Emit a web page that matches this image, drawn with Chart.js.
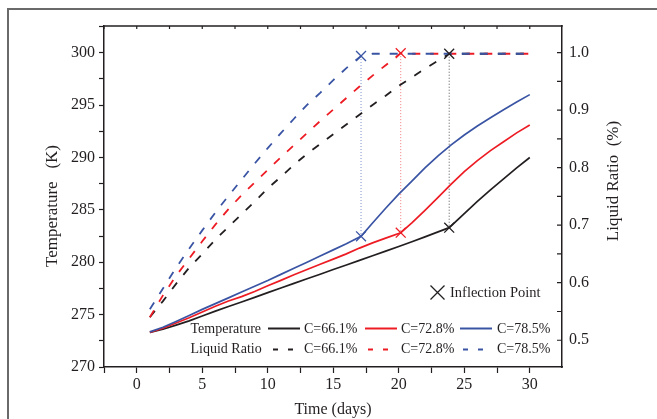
<!DOCTYPE html>
<html>
<head>
<meta charset="utf-8">
<script src="https://cdn.jsdelivr.net/npm/chart.js@4.4.1/dist/chart.umd.min.js"></script>
<style>
  html, body { margin: 0; padding: 0; background: #fff; overflow: hidden; }
  #wrap { position: relative; width: 657px; height: 419px; }
  #frame { position: absolute; left: 7px; top: 8px; width: 700px; height: 500px;
           border-left: 2px solid #6a6a6a; border-top: 2px solid #6a6a6a; }
  #chart { position: absolute; left: 0; top: 0; }
</style>
</head>
<body>
<div id="wrap">
  <div id="frame"></div>
  <canvas id="chart" width="657" height="419"></canvas>
</div>
<script>
// series labels
const concentrations = ['C=66.1%', 'C=72.8%', 'C=78.5%'];

// Temperature (K), left axis
const tempDays661 = [1,2,3,4,5,6,7,8,9,10,11,12,13,14,15,16,17,18,19,20,21,22,23,23.85,25,26,27,28,29,30];
const tempK661 = [273.3,273.6,274.0,274.4,274.87,275.33,275.78,276.2,276.65,277.1,277.54,277.98,278.42,278.86,279.3,279.74,280.18,280.62,281.06,281.5,281.95,282.42,282.9,283.3,284.65,285.8,286.9,287.95,289.0,290.0];

const tempDays728 = [1,2,3,4,5,6,7,8,9,10,11,12,13,14,15,16,17,18,19,20.15,21,22,23,24,25,26,27,28,29,30];
const tempK728 = [273.3,273.7,274.2,274.7,275.25,275.8,276.3,276.72,277.2,277.75,278.27,278.8,279.3,279.8,280.3,280.8,281.35,281.85,282.3,282.82,283.75,284.95,286.2,287.45,288.65,289.7,290.65,291.5,292.35,293.1];

const tempDays785 = [1,2,3,4,5,6,7,8,9,10,11,12,13,14,15,16,17.12,18,19,20,21,22,23,24,25,26,27,28,29,30];
const tempK785 = [273.35,273.8,274.35,274.92,275.5,276.05,276.6,277.15,277.7,278.25,278.84,279.42,280.0,280.6,281.18,281.77,282.47,283.75,285.15,286.5,287.75,289.0,290.15,291.2,292.15,293.0,293.8,294.55,295.3,296.0];

// Liquid ratio, right axis
const ratioDays661 = [1,2,3,4,5,6,7,8,9,10,11,12,13,14,15,16,17,18,19,20,21,22,23,23.85,25,26,27,28,29,30];
const ratio661 = [0.540,0.568,0.598,0.626,0.650,0.675,0.697,0.719,0.741,0.764,0.784,0.805,0.824,0.841,0.858,0.875,0.892,0.909,0.925,0.942,0.957,0.972,0.986,0.998,0.998,0.998,0.998,0.998,0.998,0.998];

const ratioDays728 = [1,2,3,4,5,6,7,8,9,10,11,12,13,14,15,16,17,18,19,20.15,21,22,23,24,25,26,27,28,29,30];
const ratio728 = [0.540,0.578,0.612,0.642,0.672,0.701,0.728,0.752,0.774,0.796,0.818,0.839,0.860,0.881,0.901,0.921,0.941,0.960,0.978,0.999,0.998,0.998,0.998,0.998,0.998,0.998,0.998,0.998,0.998,0.998];

const ratioDays785 = [1,2,3,4,5,6,7,8,9,10,11,12,13,14,15,16,17.12,18,19,20,21,22,23,24,25,26,27,28,29,30];
const ratio785 = [0.554,0.590,0.626,0.659,0.691,0.722,0.751,0.779,0.807,0.834,0.860,0.885,0.909,0.930,0.952,0.973,0.994,0.998,0.998,0.998,0.998,0.998,0.998,0.998,0.998,0.998,0.998,0.998,0.998,0.998];

// inflection points (66.1, 72.8, 78.5)
const inflectDays = [23.85, 20.15, 17.12];
const inflectTemp = [283.3, 282.82, 282.47];
const inflectRatio = [0.998, 0.999, 0.994];

const seriesColors = ['#231f20', '#ed1c24', '#3a54a4'];
const dottedColors = ['#555555', '#f07a7a', '#7d8fcc'];
const textColor = '#231f20';

function pairs(xs, ys) {
    return xs.map((x, i) => ({ x: x, y: ys[i] }));
}

function drawCross(ctx, cx, cy, r) {
    ctx.beginPath();
    ctx.moveTo(cx - r, cy - r); ctx.lineTo(cx + r, cy + r);
    ctx.moveTo(cx + r, cy - r); ctx.lineTo(cx - r, cy + r);
    ctx.stroke();
}

// top border + inward ticks on top and right
const frameTicks = {
    id: 'frameTicks',
    afterDraw(chart) {
        const { ctx, chartArea: a, scales } = chart;
        ctx.save();
        ctx.strokeStyle = textColor;
        ctx.lineWidth = 1.5;
        ctx.beginPath();
        ctx.moveTo(a.left - 0.75, a.top);
        ctx.lineTo(a.right + 0.75, a.top);
        ctx.stroke();
        ctx.lineWidth = 1.2;
        ctx.beginPath();
        scales.x.ticks.forEach(t => {
            const px = scales.x.getPixelForValue(t.value);
            ctx.moveTo(px, a.top);
            ctx.lineTo(px, a.top + 3);
        });
        scales.y2.ticks.forEach(t => {
            const py = scales.y2.getPixelForValue(t.value);
            ctx.moveTo(a.right, py);
            ctx.lineTo(a.right - 5, py);
        });
        ctx.stroke();
        ctx.restore();
    }
};

// dotted verticals joining the inflection points
const inflectLines = {
    id: 'inflectLines',
    beforeDatasetsDraw(chart) {
        const { ctx, scales } = chart;
        ctx.save();
        ctx.lineWidth = 1;
        ctx.setLineDash([1, 2]);
        inflectDays.forEach((d, i) => {
            const px = scales.x.getPixelForValue(d);
            ctx.strokeStyle = dottedColors[i];
            ctx.beginPath();
            ctx.moveTo(px, scales.y2.getPixelForValue(inflectRatio[i]));
            ctx.lineTo(px, scales.y.getPixelForValue(inflectTemp[i]));
            ctx.stroke();
        });
        ctx.restore();
    }
};

// axis titles on the sides and the two-row legend
const annotations = {
    id: 'annotations',
    afterDraw(chart) {
        const ctx = chart.ctx;
        ctx.save();
        ctx.fillStyle = textColor;
        ctx.textBaseline = 'middle';

        ctx.font = '17px "Liberation Serif"';
        ctx.textAlign = 'center';
        ctx.save();
        ctx.translate(53, 206);
        ctx.rotate(-Math.PI / 2);
        ctx.fillText('Temperature   (K)', 0, 0);
        ctx.restore();
        ctx.save();
        ctx.translate(614, 181);
        ctx.rotate(-Math.PI / 2);
        ctx.fillText('Liquid Ratio  (%)', 0, 0);
        ctx.restore();

        ctx.textAlign = 'left';
        ctx.font = '14px "Liberation Serif"';
        ctx.strokeStyle = textColor;
        ctx.lineWidth = 1.3;
        drawCross(ctx, 437.5, 292.5, 7);
        ctx.font = '14.5px "Liberation Serif"';
        ctx.fillText('Inflection Point', 450, 293);
        ctx.font = '14px "Liberation Serif"';

        ctx.fillText('Temperature', 190.5, 329);
        ctx.fillText('Liquid Ratio', 190.5, 349);
        const solidX = [268, 365, 460];
        const dashX = [273, 368, 463];
        const labelX = [304, 401, 497];
        concentrations.forEach((c, i) => {
            ctx.strokeStyle = seriesColors[i];
            ctx.lineWidth = 2;
            ctx.setLineDash([]);
            ctx.beginPath();
            ctx.moveTo(solidX[i], 328.5);
            ctx.lineTo(solidX[i] + 32, 328.5);
            ctx.stroke();
            ctx.setLineDash([5, 10]);
            ctx.beginPath();
            ctx.moveTo(dashX[i], 349.5);
            ctx.lineTo(dashX[i] + 20, 349.5);
            ctx.stroke();
            ctx.fillText(c, labelX[i], 329);
            ctx.fillText(c, labelX[i], 349);
        });
        ctx.restore();
    }
};

Chart.defaults.font.family = '"Liberation Serif", "Times New Roman", serif';
Chart.defaults.font.size = 16;
Chart.defaults.color = textColor;

const datasets = [];
const tempSets = [[tempDays661, tempK661], [tempDays728, tempK728], [tempDays785, tempK785]];
const ratioSets = [[ratioDays661, ratio661], [ratioDays728, ratio728], [ratioDays785, ratio785]];

tempSets.forEach((s, i) => {
    datasets.push({
        label: 'Temperature ' + concentrations[i],
        data: pairs(s[0], s[1]),
        yAxisID: 'y',
        borderColor: seriesColors[i],
        borderWidth: 1.7,
        pointRadius: 0,
        tension: 0,
        order: 6 - i
    });
});
ratioSets.forEach((s, i) => {
    datasets.push({
        label: 'Liquid Ratio ' + concentrations[i],
        data: pairs(s[0], s[1]),
        yAxisID: 'y2',
        borderColor: seriesColors[i],
        borderWidth: 1.8,
        borderDash: [8, 10],
        pointRadius: 0,
        tension: 0,
        order: 6 - i
    });
});
datasets.push({
    label: 'Inflection Point',
    type: 'scatter',
    data: pairs(inflectDays, inflectTemp),
    yAxisID: 'y',
    showLine: false,
    pointStyle: 'crossRot',
    pointRadius: 7,
    pointBorderWidth: 1.3,
    pointBorderColor: seriesColors,
    order: 0
});
datasets.push({
    label: 'Inflection Point',
    type: 'scatter',
    data: pairs(inflectDays, inflectRatio),
    yAxisID: 'y2',
    showLine: false,
    pointStyle: 'crossRot',
    pointRadius: 7,
    pointBorderWidth: 1.3,
    pointBorderColor: seriesColors,
    order: 0
});

const near = (v, step) => Math.abs(v / step - Math.round(v / step)) < 1e-6;

new Chart(document.getElementById('chart').getContext('2d'), {
    type: 'line',
    data: { datasets: datasets },
    options: {
        responsive: false,
        animation: false,
        layout: { padding: { top: 26, left: 0, right: 0, bottom: 0 } },
        plugins: {
            legend: { display: false },
            tooltip: { enabled: false }
        },
        scales: {
            x: {
                type: 'linear',
                min: -2.5,
                max: 32.46,
                afterFit: s => { s.height = 52; },
                border: { color: textColor, width: 1.5 },
                grid: { drawOnChartArea: false, tickLength: 6, tickColor: textColor, tickWidth: 1.2 },
                ticks: {
                    stepSize: 2.5,
                    includeBounds: false,
                    autoSkip: false,
                    maxRotation: 0,
                    padding: 2,
                    callback: v => near(v, 5) ? String(Math.round(v)) : ''
                },
                title: { display: true, text: 'Time (days)', font: { size: 16 }, padding: { top: 0, bottom: 0 } }
            },
            y: {
                position: 'left',
                min: 270,
                max: 302.55,
                afterFit: s => { s.width = 104; },
                border: { color: textColor, width: 1.5 },
                grid: { drawOnChartArea: false, tickLength: 5, tickColor: textColor, tickWidth: 1.2 },
                ticks: {
                    stepSize: 2.5,
                    includeBounds: false,
                    autoSkip: false,
                    padding: 4,
                    callback: v => near(v, 5) ? String(Math.round(v)) : ''
                }
            },
            y2: {
                position: 'right',
                min: 0.4535,
                max: 1.0462,
                afterFit: s => { s.width = 95; },
                border: { color: textColor, width: 1.5 },
                grid: { drawOnChartArea: false, drawTicks: false },
                ticks: {
                    stepSize: 0.05,
                    includeBounds: false,
                    autoSkip: false,
                    padding: 7,
                    callback: v => near(v, 0.1) ? v.toFixed(1) : ''
                }
            }
        }
    },
    plugins: [frameTicks, inflectLines, annotations]
});
</script>
</body>
</html>
